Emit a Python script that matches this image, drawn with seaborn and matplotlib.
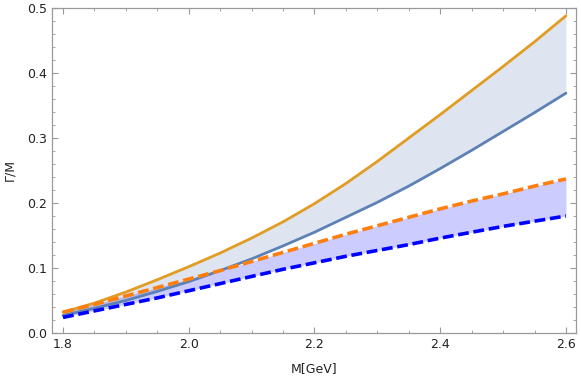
import numpy as np
import pandas as pd
import seaborn as sns
import matplotlib.pyplot as plt
from matplotlib.ticker import MultipleLocator

# data (step 0.05 GeV)
M = [1.80, 1.85, 1.90, 1.95, 2.00, 2.05, 2.10, 2.15, 2.20,
     2.25, 2.30, 2.35, 2.40, 2.45, 2.50, 2.55, 2.60]
upper_solid = [0.032, 0.046, 0.063, 0.082, 0.102, 0.123, 0.146, 0.171, 0.199,
               0.230, 0.264, 0.300, 0.336, 0.373, 0.410, 0.448, 0.488]
lower_solid = [0.027, 0.038, 0.050, 0.064, 0.079, 0.096, 0.114, 0.134, 0.155,
               0.178, 0.201, 0.226, 0.253, 0.281, 0.310, 0.339, 0.369]
upper_dashed = [0.032, 0.044, 0.057, 0.070, 0.083, 0.096, 0.110, 0.124, 0.138,
                0.152, 0.165, 0.178, 0.191, 0.203, 0.214, 0.226, 0.237]
lower_dashed = [0.024, 0.034, 0.044, 0.054, 0.065, 0.076, 0.087, 0.098, 0.108,
                0.118, 0.127, 0.136, 0.146, 0.155, 0.164, 0.172, 0.180]

sns.set_style("ticks")
plt.rcParams['font.family'] = ['DejaVu Sans']

df = pd.DataFrame({'M': M, 'us': upper_solid, 'ls': lower_solid,
                   'ud': upper_dashed, 'ld': lower_dashed})

fig = plt.figure(figsize=(5.81, 3.84), dpi=100)
ax = fig.add_axes([0.0895, 0.1328, 0.9019, 0.8464])

steel = '#5e81b5'
gold = '#e19c24'
orange = '#ff7f0e'
blue = '#0000ff'

ax.fill_between(df['M'], df['ls'], df['us'], color=steel, alpha=0.2, lw=0)
ax.fill_between(df['M'], df['ld'], df['ud'], color=blue, alpha=0.2, lw=0)

sns.lineplot(data=df, x='M', y='us', ax=ax, color=gold, lw=2.0)
sns.lineplot(data=df, x='M', y='ls', ax=ax, color=steel, lw=2.0)
sns.lineplot(data=df, x='M', y='ud', ax=ax, color=orange, lw=2.6,
             linestyle=(0, (3.0, 1.3)))
sns.lineplot(data=df, x='M', y='ld', ax=ax, color=blue, lw=2.6,
             linestyle=(0, (3.0, 1.3)))

ax.set_xlim(1.7825, 2.616)
ax.set_ylim(0, 0.5)
ax.xaxis.set_major_locator(MultipleLocator(0.2))
ax.xaxis.set_minor_locator(MultipleLocator(0.05))
ax.yaxis.set_major_locator(MultipleLocator(0.1))
ax.yaxis.set_minor_locator(MultipleLocator(0.02))
ax.xaxis.set_major_formatter(plt.FuncFormatter(lambda v, p: f"{v:.1f}"))
ax.yaxis.set_major_formatter(plt.FuncFormatter(lambda v, p: f"{v:.1f}"))

ax.tick_params(which='both', direction='in', top=True, right=True,
               color='#999999', labelsize=9, labelcolor='#222222')
ax.tick_params(which='major', length=4.5, width=0.8)
ax.tick_params(which='minor', length=2.5, width=0.6)
for s in ax.spines.values():
    s.set_color('#999999')
    s.set_linewidth(0.9)

ax.set_xlabel('M[GeV]', fontsize=9, color='#222222', labelpad=8)
ax.set_ylabel('Γ/M', fontsize=9, color='#222222', labelpad=8)

fig.savefig('out.png', dpi=100)
